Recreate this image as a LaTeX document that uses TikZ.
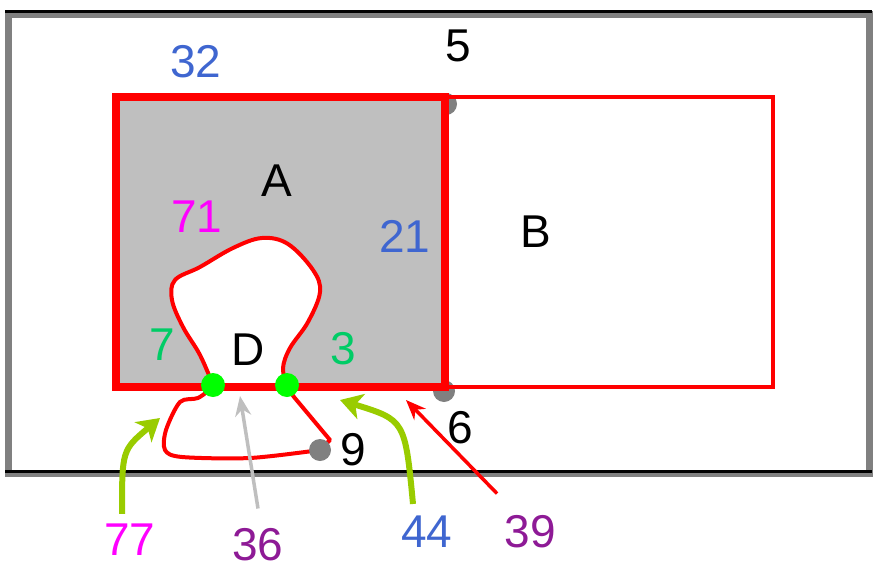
\documentclass[tikz,border=0pt]{standalone}
\usepackage{fontspec}
\setmainfont{Liberation Sans}
\usetikzlibrary{arrows.meta}

\definecolor{lblblue}{HTML}{3F66D0}
\definecolor{lblgreen}{HTML}{00CC66}
\definecolor{lblpurple}{HTML}{8E1A96}
\definecolor{lblmagenta}{HTML}{FF00FF}
\definecolor{lime}{HTML}{99CC00}
\definecolor{dotgray}{HTML}{808080}

\begin{document}
\begin{tikzpicture}[x=1pt, y=-1pt,
    lbl/.style={font=\fontsize{46}{52}\selectfont, inner sep=0pt},
    greydot/.style={circle, fill=dotgray, minimum size=22pt, inner sep=0pt},
    greendot/.style={circle, fill=green, minimum size=24pt, inner sep=0pt},
    limearrow/.style={draw=lime, line width=6pt, -{Stealth[length=22pt, width=26pt, inset=6pt]}},
    thinarrow/.style={line width=3.5pt, -{Stealth[length=20pt, width=16pt]}}]
    \useasboundingbox (0,0) rectangle (875,570);

    % outer frame
    \draw[dotgray, line width=7pt] (8,14) rectangle (869,473);
    \draw[black, line width=3pt] (5,11) -- (872,11);
    \draw[black, line width=3pt] (5,471) -- (872,471);

    % corner points behind the borders
    \node[greydot] (p5) at (446,104) {};
    \node[greydot] (p6) at (444,391) {};

    % faces A and B
    \draw[red, line width=4.5pt] (445,97) rectangle (773,387);
    \draw[red, fill=black!25, line width=8pt] (116,97) rectangle (445,387);

    % region D
    \draw[red, line width=4pt, fill=white] plot[smooth, tension=0.6] coordinates {
        (213,385) (200,355) (183,327) (172,300) (175,280) (200,267) (233,248)
        (262,238) (288,244) (313,270) (320,292) (308,322) (290,348) (283,368) (287,385)};
    \draw[red, line width=8pt] (213,387) -- (287,387);
    \draw[red, line width=4pt] plot[smooth, tension=0.5] coordinates {
        (213,387) (198,398) (180,402) (166,430) (165,450) (182,457) (250,458) (320,450)};
    \draw[red, line width=4pt, line join=round] (287,387) -- (294,397) -- (330,440) -- (320,450);

    \node[greydot] (p9) at (320,450) {};
    \node[greendot] (q7) at (213,385) {};
    \node[greendot] (q3) at (287,385) {};

    % labels
    \node[lbl, text=lblblue] (n32) at (196,62) {32};
    \node[lbl] (n5) at (458,46) {5};
    \node[lbl] (nA) at (277,181) {A};
    \node[lbl, text=lblmagenta] (n71) at (197,217) {71};
    \node[lbl, text=lblblue] (n21) at (405,236) {21};
    \node[lbl] (nB) at (536,232) {B};
    \node[lbl, text=lblgreen] (n7) at (162,345) {7};
    \node[lbl] (nD) at (248,350) {D};
    \node[lbl, text=lblgreen] (n3) at (343,349) {3};
    \node[lbl] (n6) at (460,428) {6};
    \node[lbl] (n9) at (353,450) {9};
    \node[lbl, text=lblmagenta] (n77) at (130,540) {77};
    \node[lbl, text=lblpurple] (n36) at (258,545) {36};
    \node[lbl, text=lblblue] (n44) at (427,532) {44};
    \node[lbl, text=lblpurple] (n39) at (530,532) {39};

    % pointers
    \coordinate (t77) at (160,418);
    \coordinate (t36) at (240,396);
    \coordinate (t44) at (340,400);
    \coordinate (t39) at (406,400);
    \draw[limearrow] (n77.north) ++(-8,-10) .. controls (122,450) .. (t77);
    \draw[thinarrow, draw=black!25] (n36.north) ++(0,-20) -- (t36);
    \draw[limearrow] (n44.north) ++(-14,-12) .. controls (405,420) .. (t44);
    \draw[thinarrow, red] (n39.north) ++(-33,-22) -- (t39);
\end{tikzpicture}
\end{document}
